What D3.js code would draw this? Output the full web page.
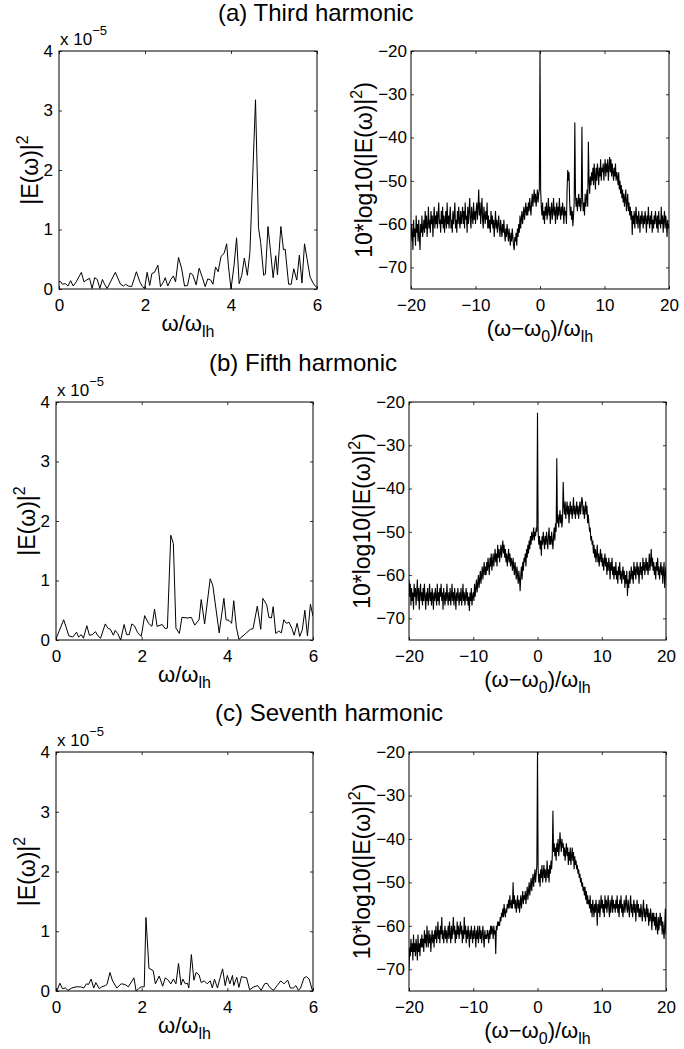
<!DOCTYPE html>
<html>
<head>
<meta charset="utf-8">
<script src="https://cdn.jsdelivr.net/npm/d3@7/dist/d3.min.js"></script>
<style>
  body { margin: 0; background: #fff; }
  svg { font-family: "Liberation Sans", Arial, Helvetica, sans-serif; }
  .tick text { font-size: 17px; fill: #000; }
  .tick line { stroke: #000; }
</style>
</head>
<body>
<svg id="chart" width="684" height="1049"></svg>
<script>
//Panel titles and tick labels
const titles = ["(a) Third harmonic", "(b) Fifth harmonic", "(c) Seventh harmonic"];
const linXTicks = [0, 2, 4, 6];
const linYTicks = [0, 1, 2, 3, 4];
const dbXTicks = [-20, -10, 0, 10, 20];
const dbYTicks = [-70, -60, -50, -40, -30, -20];

//Left panels: omega/omega_lh and |E|^2 (units of 1e-5)
const thirdLinFreq = [
  0.0,0.04,0.08,0.15,0.21,0.27,0.33,0.4,0.46,0.52,
  0.58,0.64,0.71,0.77,0.83,0.89,0.95,1.01,1.06,1.12,
  1.31,1.43,1.5,1.55,1.61,1.69,1.8,1.88,1.94,1.99,
  2.05,2.11,2.16,2.22,2.3,2.36,2.43,2.47,2.53,2.6,
  2.66,2.71,2.78,2.85,2.92,2.99,3.05,3.11,3.19,3.26,
  3.34,3.4,3.46,3.53,3.58,3.64,3.7,3.77,3.84,3.9,
  3.94,4.0,4.07,4.13,4.19,4.25,4.31,4.38,4.44,4.57,
  4.64,4.69,4.76,4.8,4.86,4.92,4.98,5.04,5.08,5.16,
  5.22,5.26,5.34,5.4,5.46,5.53,5.59,5.65,5.71,5.77,
  5.84,5.91,5.96,6.0];
const thirdLinPow = [
  0.13,0.12,0.08,0.09,0.05,0.14,0.05,0.12,0.2,0.28,
  0.12,0.15,0.18,0.01,0.19,0.16,0.01,0.16,0.08,0.01,
  0.28,0.08,0.05,0.08,0.05,0.04,0.29,0.12,0.04,0.01,
  0.28,0.06,0.26,0.28,0.4,0.04,0.12,0.19,0.05,0.16,
  0.22,0.12,0.53,0.35,0.05,0.06,0.27,0.24,0.07,0.35,
  0.18,0.04,0.17,0.15,0.08,0.37,0.29,0.55,0.6,0.76,
  0.39,0.0,0.39,0.86,0.09,0.23,0.52,0.23,0.62,3.18,
  1.03,0.78,0.23,0.25,1.05,0.63,0.19,0.56,0.24,1.05,
  0.66,0.67,0.08,0.08,0.34,0.15,0.57,0.1,0.76,0.5,
  0.2,0.1,0.05,0.02];

const fifthLinFreq = [
  0.0,0.18,0.3,0.39,0.48,0.53,0.59,0.64,0.72,0.78,
  0.85,0.92,0.98,1.04,1.15,1.21,1.27,1.34,1.38,1.44,
  1.51,1.59,1.65,1.71,1.77,1.83,1.91,1.99,2.07,2.16,
  2.24,2.3,2.36,2.48,2.55,2.6,2.68,2.74,2.8,2.88,
  2.94,3.08,3.16,3.24,3.34,3.39,3.47,3.6,3.66,3.81,
  3.92,3.97,4.04,4.1,4.15,4.21,4.27,4.43,4.54,4.6,
  4.7,4.78,4.83,4.92,4.97,5.03,5.07,5.13,5.2,5.26,
  5.32,5.38,5.44,5.51,5.56,5.63,5.69,5.75,5.81,5.87,
  5.94,6.0];
const fifthLinPow = [
  0.02,0.34,0.07,0.05,0.13,0.05,0.09,0.03,0.24,0.08,
  0.09,0.14,0.07,0.03,0.27,0.2,0.18,0.08,0.16,0.11,
  0.0,0.26,0.09,0.09,0.27,0.24,0.12,0.06,0.41,0.28,
  0.23,0.52,0.23,0.26,0.19,0.2,1.76,1.62,0.2,0.11,
  0.38,0.37,0.38,0.25,0.34,0.68,0.27,1.03,0.92,0.12,
  0.7,0.34,0.33,0.28,0.66,0.22,0.01,0.11,0.18,0.19,
  0.57,0.18,0.7,0.59,0.38,0.37,0.56,0.11,0.15,0.12,
  0.34,0.28,0.3,0.19,0.08,0.28,0.06,0.17,0.5,0.07,
  0.6,0.4];

const seventhLinFreq = [
  0.02,0.09,0.15,0.22,0.28,0.37,0.47,0.57,0.65,0.71,
  0.76,0.82,0.88,0.93,1.01,1.07,1.15,1.19,1.26,1.32,
  1.42,1.52,1.61,1.69,1.82,1.87,1.93,1.99,2.06,2.1,
  2.17,2.27,2.32,2.41,2.49,2.55,2.61,2.68,2.74,2.8,
  2.86,2.92,2.96,3.02,3.07,3.1,3.16,3.22,3.27,3.34,
  3.39,3.46,3.53,3.6,3.65,3.7,3.77,3.83,3.89,3.95,
  4.0,4.06,4.12,4.15,4.22,4.27,4.33,4.39,4.45,4.52,
  4.62,4.71,4.79,4.87,4.93,4.99,5.08,5.16,5.25,5.32,
  5.41,5.47,5.54,5.6,5.66,5.71,5.79,5.85,5.91,5.99];
const seventhLinPow = [
  0.0,0.13,0.04,0.05,0.01,0.05,0.07,0.07,0.05,0.12,
  0.11,0.2,0.05,0.14,0.04,0.07,0.09,0.11,0.31,0.17,
  0.05,0.12,0.11,0.07,0.22,0.0,0.04,0.07,0.07,1.23,
  0.38,0.34,0.12,0.25,0.08,0.22,0.19,0.12,0.2,0.12,
  0.46,0.1,0.2,0.12,0.13,0.05,0.61,0.18,0.31,0.27,
  0.14,0.17,0.12,0.17,0.05,0.2,0.05,0.22,0.37,0.09,
  0.26,0.12,0.26,0.09,0.23,0.06,0.24,0.23,0.22,0.02,
  0.07,0.09,0.01,0.12,0.13,0.06,0.01,0.09,0.17,0.12,
  0.18,0.05,0.05,0.09,0.01,0.05,0.22,0.24,0.2,0.0];

//Right panels: dB spectra, one row per 2 units of (w-w0)/w_lh from -20 (step 0.1)
const dbFreqStart = -20;
const dbFreqStep = 0.1;
const thirdDb = [
  -64,-60,-62,-66,-59,-63,-61,-65,-58,-62,-60,-64,-59,-63,-66,-60,-62,-58,-63,-61,
  -59,-62,-57,-61,-58,-63,-60,-56,-61,-59,-62,-57,-60,-58,-63,-59,-56,-61,-58,-60,
  -57,-61,-58,-55,-60,-59,-62,-57,-60,-56,-61,-58,-62,-59,-57,-61,-55,-60,-58,-61,
  -58,-56,-61,-59,-62,-57,-60,-58,-55,-61,-59,-62,-57,-60,-56,-59,-61,-57,-60,-58,
  -56,-60,-57,-61,-55,-59,-58,-62,-56,-60,-57,-54,-59,-61,-56,-58,-60,-55,-59,-57,
  -60,-57,-55,-59,-56,-52,-58,-55,-60,-57,-54,-59,-61,-56,-58,-60,-57,-59,-55,-61,
  -58,-61,-59,-62,-57,-60,-58,-61,-59,-63,-60,-57,-61,-59,-62,-60,-58,-61,-63,-59,
  -61,-63,-60,-62,-59,-62,-64,-61,-63,-60,-62,-64,-61,-63,-65,-62,-64,-61,-63,-65,
  -66,-63,-64,-62,-65,-61,-63,-60,-62,-58,-61,-59,-57,-60,-58,-56,-59,-57,-55,-58,
  -56,-58,-55,-57,-54,-56,-58,-55,-53,-56,-54,-52,-55,-53,-56,-54,-52,-55,-53,-52,
  -20,-52,-56,-58,-55,-59,-57,-60,-56,-58,-55,-59,-57,-54,-58,-56,-60,-57,-55,-59,
  -57,-54,-58,-56,-60,-57,-55,-59,-56,-58,-54,-57,-59,-56,-58,-55,-57,-60,-56,-58,
  -57,-60,-52,-47.5,-50,-48,-55,-58,-56,-59,-57,-60.5,-58,-55,-36.5,-53,-56,-54,-57,-55,
  -53,-56,-54,-57,-55,-37.5,-54,-57,-55,-58,-53,-56,-54,-52,-56,-41,-50,-53,-49,-51,
  -48,-50,-47,-51,-46,-49,-52,-47,-50,-46,-48,-51,-47,-49,-45,-50,-47,-48,-46,-50,
  -47,-45,-49,-46,-48,-45,-50,-47,-44.5,-48,-45,-49,-46,-48,-50,-47,-49,-46,-50,-48,
  -49,-51,-48,-52,-50,-53,-51,-54,-52,-55,-53,-56,-54,-52,-57,-55,-53,-57,-55,-58,
  -56,-59,-57,-62.5,-58,-60,-57,-61,-58,-56,-60,-58,-61,-57,-59,-62,-58,-60,-57,-59,
  -61,-58,-60,-57,-59,-62,-58,-60,-56,-59,-61,-58,-60,-57,-62,-59,-61,-58,-60,-57,
  -59,-61,-58,-62,-57,-60,-59,-61,-56,-60,-58,-62,-59,-57,-61,-58,-60,-63,-59,-61,
  -60];
const fifthDb = [
  -61,-65,-62,-67,-63,-66,-64,-68,-62,-65,-63,-67,-64,-61,-66,-63,-68,-64,-62,-66,
  -64,-67,-63,-66,-62,-65,-68,-64,-66,-63,-67,-65,-62,-66,-64,-67,-63,-65,-68,-64,
  -66,-63,-65,-67,-62,-66,-64,-67,-63,-65,-62,-66,-64,-68,-63,-65,-67,-64,-66,-62,
  -65,-67,-64,-66,-63,-67,-65,-62,-66,-64,-67,-63,-65,-68,-64,-66,-63,-65,-67,-64,
  -66,-63,-67,-65,-62,-66,-64,-67,-65,-63,-66,-64,-67,-65,-68.3,-64,-66,-63,-67,-65,
  -64,-66,-62,-65,-63,-61,-64,-62,-60,-63,-61,-59,-62,-60,-58,-61,-59,-57,-60,-58,
  -60,-57,-59,-56,-58,-60,-56,-58,-55,-59,-57,-55,-58,-56,-54,-57,-55,-58,-53,-56,
  -54,-57,-55,-53,-56,-54,-52,-55,-53,-56,-54,-57,-55,-58,-56,-54,-57,-55,-58,-56,
  -57,-59,-56,-58,-60,-57,-59,-61,-58,-60,-62,-59,-61,-63.7,-60,-58,-61,-57,-59,-56,
  -57,-55,-58,-54,-56,-53,-55,-52,-54,-51,-53,-50,-52,-51,-49,-52,-50,-51,-49,-50,
  -22.5,-50,-53,-51,-54,-52,-55.5,-51,-53,-50,-52,-54,-51,-53,-50,-52,-54,-51,-49,-53,
  -51,-53,-50,-52,-54,-51,-49,-52,-48,-50,-33,-48,-46,-49,-47,-45,-48,-46,-49,-47,
  -38.5,-44,-46,-43,-47,-45,-43,-46,-44,-48,-45,-43,-46,-44,-47,-45,-42,-46,-44,-47,
  -45,-43,-46,-44,-47,-45,-43,-46,-44,-42,-43,-46,-44,-47,-45,-43,-46,-44,-48,-46,
  -48,-50,-49,-52,-51,-53,-52,-55,-53,-56,-54,-57,-55,-53,-57,-55,-58,-56,-54,-57,
  -55,-58,-56,-59,-57,-55,-58,-56,-60,-57,-59,-56,-58,-61,-57,-59,-56,-60,-58,-61,
  -58,-60,-57,-61,-59,-62,-58,-60,-57,-61,-59,-62,-60,-58,-61,-59,-63,-60,-62,-59,
  -64.8,-61,-63,-59,-62,-60,-58,-61,-59,-62,-57,-60,-58,-61,-59,-57,-60,-58,-62,-59,
  -57,-60,-58,-61,-56,-59,-57,-60,-58,-56,-59,-57,-60,-58,-55,-59,-57,-54,-58,-56,
  -59,-57,-60,-58,-61,-57,-59,-56,-60,-58,-61,-59,-57,-60,-58,-62,-59,-57,-63,-60,
  -58];
const seventhDb = [
  -70,-65,-67,-63,-66,-64,-68,-62,-66,-64,-67,-63,-65,-68,-62,-66,-64,-67,-63,-65,
  -62,-65,-63,-66,-61,-64,-62,-65,-60,-63,-65,-61,-64,-62,-66,-63,-61,-64,-62,-65,
  -61,-63,-60,-64,-62,-59,-63,-61,-64,-60,-62,-58,-63,-61,-64,-62,-60,-63,-61,-64,
  -62,-60,-63,-59,-62,-64,-60,-63,-61,-58,-62,-60,-64,-61,-63,-59,-62,-60,-63,-61,
  -59,-62,-60,-64,-61,-63,-58,-62,-60,-64,-61,-63,-60,-62,-65,-61,-63,-60,-62,-64,
  -61,-63,-60,-62,-65,-61,-63,-60,-64,-62,-60,-63,-61,-64,-62,-60,-63,-65,-61,-63,
  -62,-63,-61,-62,-64,-61,-63,-60,-62,-60,-61,-63,-60,-62,-61,-66.5,-60,-61,-59,-60,
  -59,-60,-58,-59,-57,-58,-56,-58,-55,-57,-58,-56,-57,-55,-56,-54,-56,-53,-55,-56,
  -54,-56,-50,-55,-53,-56,-54,-57,-55,-53,-56,-54,-57,-55,-53,-56,-54,-52,-55,-53,
  -54,-52,-55,-53,-51,-54,-52,-50,-53,-51,-49,-52,-50,-48,-51,-49,-47,-50,-48,-46,
  -20,-47,-50,-48,-51,-47,-49,-46,-50,-48,-46,-49,-47,-50,-48,-45,-49,-47,-50,-46,
  -48,-45,-47,-44,-33.5,-43,-41,-44,-42,-45,-41,-43,-40,-44,-42,-38.5,-41,-43,-40,-42,
  -41,-44,-42,-45,-43,-41,-44,-42,-46,-43,-45,-42,-46,-44,-42,-45,-43,-47,-44,-46,
  -45,-47,-46,-48,-47,-49,-48,-50,-49,-51,-50,-52,-51,-53,-51,-54,-52,-55,-53,-55,
  -54,-56,-53,-57,-55,-58,-54,-56,-58,-55,-57,-54,-56,-60,-55,-57,-54,-58,-56,-53,
  -56,-54,-57,-55,-58,-53,-56,-54,-57,-55,-53,-56,-58,-54,-57,-55,-53,-57,-54,-56,
  -55,-57,-54,-56,-53,-57,-55,-58,-54,-56,-53,-57,-55,-58,-56,-54,-57,-55,-53,-56,
  -57,-54,-56,-58,-55,-53,-57,-55,-58,-56,-54,-57,-55,-59,-56,-54,-57,-55,-58,-56,
  -58,-55,-57,-59,-56,-54,-58,-56,-59,-57,-55,-58,-56,-60,-57,-59,-56,-58,-61,-57,
  -59,-57,-60,-58,-61,-57,-60,-62,-58,-61,-59,-57,-60,-58,-62,-59,-61,-63,-60,-56,
  -62];

const linSeries = [
  [thirdLinFreq, thirdLinPow],
  [fifthLinFreq, fifthLinPow],
  [seventhLinFreq, seventhLinPow]];
const dbSeries = [thirdDb, fifthDb, seventhDb];

//Layout of each row (pixels)
const rows = [
  {top: 51, bottom: 289, linL: 59, linR: 317, dbL: 411, dbR: 669, titleX: 218, titleY: 21},
  {top: 402, bottom: 640, linL: 56, linR: 313, dbL: 409, dbR: 666, titleX: 209, titleY: 371},
  {top: 752, bottom: 991, linL: 56, linR: 313, dbL: 409, dbR: 666, titleX: 215, titleY: 721}
];

const svg = d3.select("#chart");
svg.append("rect").attr("width", 684).attr("height", 1049).attr("fill", "#fff");

let clipId = 0;

//Box with inward ticks on all four sides
function drawFrame(g, x, y, xTicks, yTicks, yPad){
  const [xl, xr] = x.range();
  const [yb, yt] = y.range();
  const fmt = d3.format("d");

  g.append("g")
    .attr("transform", "translate(0," + yb + ")")
    .call(d3.axisBottom(x).tickValues(xTicks).tickFormat(fmt).tickSizeInner(-3).tickSizeOuter(0).tickPadding(10))
    .call(a => a.select(".domain").remove());
  g.append("g")
    .attr("transform", "translate(0," + yt + ")")
    .call(d3.axisTop(x).tickValues(xTicks).tickSizeInner(-3).tickSizeOuter(0).tickFormat(""))
    .call(a => a.select(".domain").remove());
  g.append("g")
    .attr("transform", "translate(" + xl + ",0)")
    .call(d3.axisLeft(y).tickValues(yTicks).tickFormat(fmt).tickSizeInner(-3).tickSizeOuter(0).tickPadding(yPad))
    .call(a => a.select(".domain").remove());
  g.append("g")
    .attr("transform", "translate(" + xr + ",0)")
    .call(d3.axisRight(y).tickValues(yTicks).tickSizeInner(-3).tickSizeOuter(0).tickFormat(""))
    .call(a => a.select(".domain").remove());

  g.selectAll(".tick text").attr("font-family", null).attr("font-size", null);
  g.selectAll(".tick line").attr("stroke-width", 0.8);

  g.append("rect")
    .attr("x", xl).attr("y", yt)
    .attr("width", xr - xl).attr("height", yb - yt)
    .attr("fill", "none")
    .attr("stroke", "#000")
    .attr("stroke-width", 1);
}

function addClip(x, y){
  const id = "clip" + (clipId++);
  svg.append("clipPath").attr("id", id)
     .append("rect")
     .attr("x", x.range()[0]).attr("y", y.range()[1])
     .attr("width", x.range()[1] - x.range()[0])
     .attr("height", y.range()[0] - y.range()[1]);
  return "url(#" + id + ")";
}

rows.forEach((r, i) => {
  const g = svg.append("g");

  //Title
  g.append("text")
   .attr("x", r.titleX)
   .attr("y", r.titleY)
   .attr("font-size", 24)
   .text(titles[i]);

  //Left: linear power
  const xLin = d3.scaleLinear().domain([0, 6]).range([r.linL, r.linR]);
  const yLin = d3.scaleLinear().domain([0, 4]).range([r.bottom, r.top]);
  const [freq, pow] = linSeries[i];
  const linPts = freq.map((f, k) => [f, pow[k]]);

  g.append("path")
   .datum(linPts)
   .attr("clip-path", addClip(xLin, yLin))
   .attr("fill", "none")
   .attr("stroke", "#000")
   .attr("stroke-width", 1)
   .attr("d", d3.line().x(d => xLin(d[0])).y(d => yLin(d[1])));

  drawFrame(g, xLin, yLin, linXTicks, linYTicks, 6);

  //x 10^-5 multiplier
  const mult = g.append("text")
    .attr("x", r.linL + 1)
    .attr("y", r.top - 6)
    .attr("font-size", 17)
    .text("x 10");
  mult.append("tspan").attr("dy", -10).attr("font-size", 13).text("\u22125");

  //Left y label
  const yl = g.append("text")
    .attr("transform", "translate(" + (r.linL - 21) + "," + ((r.top + r.bottom) / 2) + ") rotate(-90)")
    .attr("text-anchor", "middle")
    .attr("font-size", 23)
    .text("|E(\u03c9)|");
  yl.append("tspan").attr("dy", -10).attr("font-size", 16).text("2");

  //Left x label
  const xl = g.append("text")
    .attr("x", (r.linL + r.linR) / 2)
    .attr("y", r.bottom + 42)
    .attr("text-anchor", "middle")
    .attr("font-size", 22)
    .text("\u03c9/\u03c9");
  xl.append("tspan").attr("dy", 6).attr("font-size", 16).text("lh");

  //Right: dB spectrum
  const xDb = d3.scaleLinear().domain([-20, 20]).range([r.dbL, r.dbR]);
  const yDb = d3.scaleLinear().domain([-75, -20]).range([r.bottom, r.top]);
  const dbPts = dbSeries[i].map((v, k) => [dbFreqStart + k * dbFreqStep, v]);

  g.append("path")
   .datum(dbPts)
   .attr("clip-path", addClip(xDb, yDb))
   .attr("fill", "none")
   .attr("stroke", "#000")
   .attr("stroke-width", 1.1)
   .attr("d", d3.line().x(d => xDb(d[0])).y(d => yDb(d[1])));

  drawFrame(g, xDb, yDb, dbXTicks, dbYTicks, 4);

  //Right y label
  const yr = g.append("text")
    .attr("transform", "translate(" + (r.dbL - 39) + "," + ((r.top + r.bottom) / 2) + ") rotate(-90)")
    .attr("text-anchor", "middle")
    .attr("font-size", 23)
    .text("10*log10(|E(\u03c9)|");
  yr.append("tspan").attr("dy", -10).attr("font-size", 16).text("2");
  yr.append("tspan").attr("dy", 10).text(")");

  //Right x label
  const xr = g.append("text")
    .attr("x", (r.dbL + r.dbR) / 2)
    .attr("y", r.bottom + 47)
    .attr("text-anchor", "middle")
    .attr("font-size", 22)
    .text("(\u03c9\u2212\u03c9");
  xr.append("tspan").attr("dy", 6).attr("font-size", 16).text("0");
  xr.append("tspan").attr("dy", -6).text(")/\u03c9");
  xr.append("tspan").attr("dy", 6).attr("font-size", 16).text("lh");
});
</script>
</body>
</html>
